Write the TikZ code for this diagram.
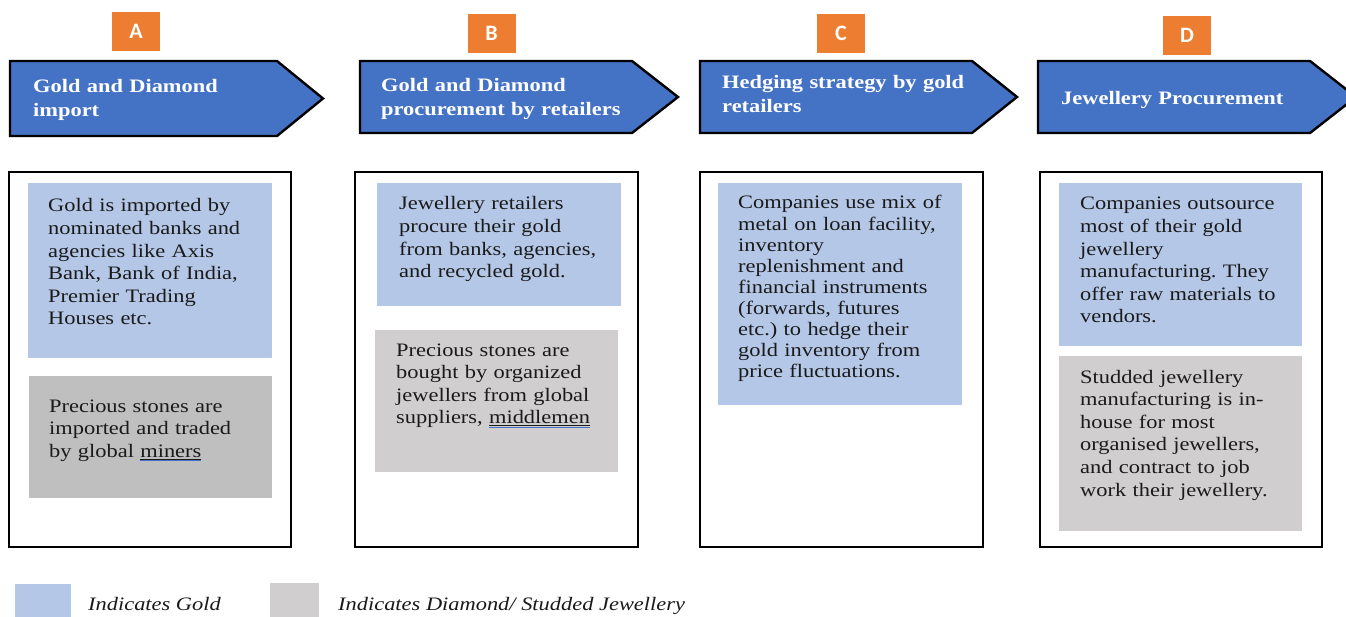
\documentclass[tikz,border=0pt]{standalone}
\usepackage{fontspec}
\setmainfont{Liberation Serif}[FakeStretch=1.18]
\newfontfamily\labelfont{Carlito}
\frenchspacing
\definecolor{arrowblue}{HTML}{4472C4}
\definecolor{tagorange}{HTML}{ED7D31}
\definecolor{goldbox}{HTML}{B4C7E7}
\definecolor{greydark}{HTML}{BFBFBF}
\definecolor{greylight}{HTML}{D0CECE}
\definecolor{txt}{HTML}{1A1A1A}
\definecolor{ulblue}{HTML}{4472C4}
\newlength\wulen
\newcommand\wordul[1]{\settowidth\wulen{#1}\rlap{\textcolor{txt}{\rule[-2.2pt]{\wulen}{0.8pt}}}\rlap{\textcolor{ulblue}{\rule[-3.8pt]{\wulen}{1.0pt}}}#1}
\tikzset{
  stagearrow/.style={draw=black, line width=2.4pt, fill=arrowblue, line join=miter},
  tagbox/.style={fill=tagorange, text=white, minimum width=48pt, minimum height=39pt, inner sep=0pt, font=\labelfont\bfseries\fontsize{22}{22}\selectfont},
  hdr/.style={text=white, font=\frenchspacing\fontsize{19}{23.5}\selectfont\bfseries, anchor=base west, inner sep=0pt, text width=300pt, align=left},
  body/.style={text=txt, font=\frenchspacing\fontsize{19}{22.6}\selectfont, anchor=base west, inner sep=0pt, text width=260pt, align=left},
  bodytight/.style={body, font=\frenchspacing\fontsize{19}{21.1}\selectfont},
  outerbox/.style={draw=black, line width=2.4pt},
  legendtext/.style={text=txt, font=\fontsize{19}{22}\selectfont\itshape, anchor=base west, inner sep=0pt}
}
\begin{document}
\begin{tikzpicture}[x=1pt,y=-1pt]
\useasboundingbox (0,0) rectangle (1346,617);
\clip (0,0) rectangle (1346,617);
\fill[white] (0,0) rectangle (1346,617);

% orange tags
\node[tagbox] (tagA) at (136,31.5) {A};
\node[tagbox] (tagB) at (491.5,33.5) {B};
\node[tagbox] (tagC) at (841,33.5) {C};
\node[tagbox] (tagD) at (1187,35.5) {D};

% stage arrows
\draw[stagearrow] (10,61) -- (277,61) -- (323,98.5) -- (277,136) -- (10,136) -- cycle;
\draw[stagearrow] (360,61) -- (632,61) -- (678,97) -- (632,133) -- (360,133) -- cycle;
\draw[stagearrow] (700,61) -- (972,61) -- (1017,97) -- (972,133) -- (700,133) -- cycle;
\draw[stagearrow] (1038,61) -- (1310,61) -- (1356,97) -- (1310,133) -- (1038,133) -- cycle;

\node[hdr] (hA) at (33,93) {Gold and Diamond\\import};
\node[hdr] (hB) at (381,92) {Gold and Diamond\\procurement by retailers};
\node[hdr] (hC) at (722,89) {Hedging strategy by gold\\retailers};
\node[hdr] (hD) at (1061,105) {Jewellery Procurement};

% outer boxes
\draw[outerbox] (9,172) rectangle (291,547);
\draw[outerbox] (355,172) rectangle (638,547);
\draw[outerbox] (700,172) rectangle (983,547);
\draw[outerbox] (1040,172) rectangle (1322,547);

% coloured boxes
\fill[goldbox] (28,183) rectangle (272,358);
\fill[greydark] (29,376) rectangle (272,498);
\fill[goldbox] (377,183) rectangle (621,306);
\fill[greylight] (375,330) rectangle (618,472);
\fill[goldbox] (718,183) rectangle (962,405);
\fill[goldbox] (1059,183) rectangle (1302,346);
\fill[greylight] (1059,356) rectangle (1302,531);

% texts
\node[body] (tA1) at (48,212) {Gold is imported by\\nominated banks and\\agencies like Axis\\Bank, Bank of India,\\Premier Trading\\Houses etc.};
\node[body] (tA2) at (49,412) {Precious stones are\\imported and traded\\by global \wordul{miners}};
\node[body] (tB1) at (399,210) {Jewellery retailers\\procure their gold\\from banks, agencies,\\and recycled gold.};
\node[body] (tB2) at (396,356) {Precious stones are\\bought by organized\\jewellers from global\\suppliers, \wordul{middlemen}};
\node[bodytight] (tC1) at (738,209) {Companies use mix of\\metal on loan facility,\\inventory\\replenishment and\\financial instruments\\(forwards, futures\\etc.) to hedge their\\gold inventory from\\price fluctuations.};
\node[body] (tD1) at (1080,210) {Companies outsource\\most of their gold\\jewellery\\manufacturing. They\\offer raw materials to\\vendors.};
\node[body] (tD2) at (1080,383) {Studded jewellery\\manufacturing is in-\\house for most\\organised jewellers,\\and contract to job\\work their jewellery.};

% legend
\fill[goldbox] (15,584) rectangle (71,617);
\fill[greylight] (270,583) rectangle (319,617);
\node[legendtext] (lg1) at (88,610) {Indicates Gold};
\node[legendtext] (lg2) at (338,610) {Indicates Diamond/ Studded Jewellery};
\end{tikzpicture}
\end{document}
